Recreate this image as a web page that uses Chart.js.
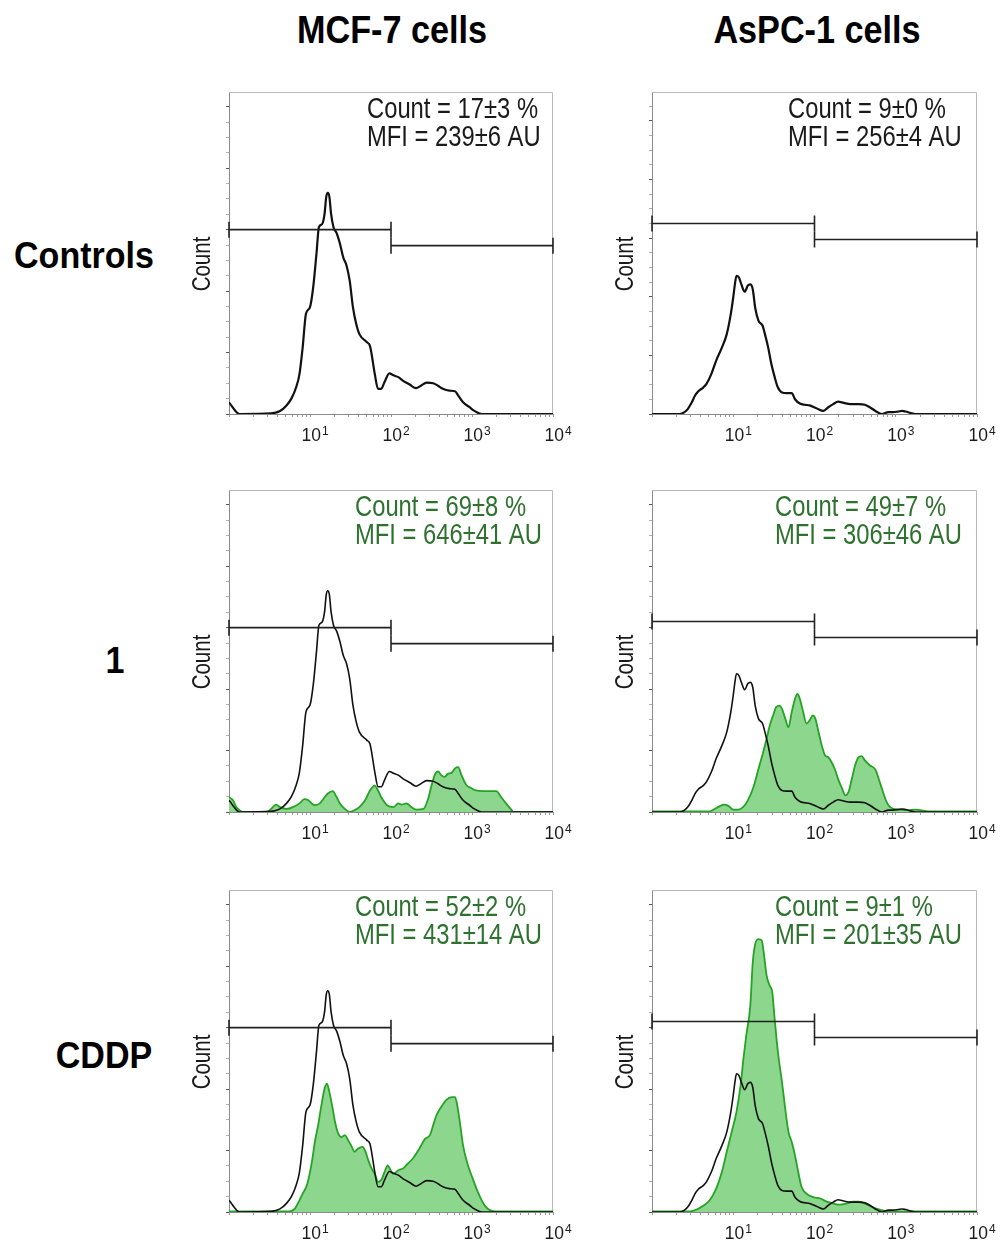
<!DOCTYPE html>
<html>
<head>
<meta charset="utf-8">
<script src="https://cdn.jsdelivr.net/npm/chart.js@4.4.1/dist/chart.umd.min.js"></script>
<style>
  body { margin: 0; background: #fff; width: 1000px; height: 1243px; position: relative; overflow: hidden;
         font-family: "Liberation Sans", Arial, sans-serif; }
  canvas { position: absolute; }
  .lbl { position: absolute; font-weight: bold; line-height: 1; white-space: nowrap; color: #000;
         text-align: center; width: 300px; }
</style>
</head>
<body>
<script>
// ---- data (x = log10 fluorescence, y = count in tick units) ----
const cellLines = ["MCF-7 cells", "AsPC-1 cells"];
const treatments = ["Controls", "1", "CDDP"];
const countLabels = [["17±3", "9±0"], ["69±8", "49±7"], ["52±2", "9±1"]];
const mfiLabels = [["239±6", "256±4"], ["646±41", "306±46"], ["431±14", "201±35"]];
const decadeTicks = [10, 100, 1000, 10000];

const mcfCtrlLog = [0, 0.11, 0.13, 0.52, 0.63, 0.71, 0.77, 0.83, 0.87, 0.91, 0.95, 1.0, 1.04, 1.08, 1.11, 1.15, 1.18, 1.2, 1.22, 1.24, 1.26, 1.29, 1.33, 1.37, 1.41, 1.45, 1.49, 1.53, 1.57, 1.61, 1.7, 1.74, 1.76, 1.8, 1.84, 1.88, 1.92, 1.98, 2.03, 2.09, 2.15, 2.23, 2.31, 2.37, 2.44, 2.52, 2.58, 2.64, 2.72, 2.79, 2.83, 2.89, 2.97, 3.03, 3.12, 4];
const mcfCtrlCount = [0.19, 0.01, 0, 0.01, 0.05, 0.14, 0.25, 0.44, 0.65, 1.09, 1.63, 1.74, 2.07, 2.61, 3.04, 3.09, 3.26, 3.53, 3.6, 3.53, 3.26, 3.04, 2.94, 2.77, 2.55, 2.42, 2.17, 1.74, 1.47, 1.3, 1.17, 1.11, 0.98, 0.65, 0.41, 0.41, 0.52, 0.66, 0.63, 0.6, 0.54, 0.48, 0.42, 0.46, 0.51, 0.5, 0.46, 0.41, 0.38, 0.37, 0.3, 0.19, 0.11, 0.05, 0, 0];

const aspCtrlLog = [0, 0.34, 0.4, 0.44, 0.49, 0.53, 0.57, 0.63, 0.67, 0.73, 0.79, 0.86, 0.92, 0.97, 1.0, 1.02, 1.04, 1.07, 1.1, 1.14, 1.18, 1.21, 1.24, 1.27, 1.31, 1.36, 1.39, 1.43, 1.47, 1.51, 1.55, 1.6, 1.66, 1.72, 1.76, 1.82, 1.88, 1.94, 2.03, 2.11, 2.17, 2.23, 2.29, 2.36, 2.44, 2.54, 2.62, 2.68, 2.75, 2.83, 2.91, 2.97, 3.03, 3.08, 3.12, 3.2, 3.24, 4];
const aspCtrlCount = [0, 0, 0.03, 0.08, 0.19, 0.3, 0.37, 0.43, 0.49, 0.65, 0.87, 1.08, 1.3, 1.63, 1.9, 2.11, 2.25, 2.22, 2.11, 1.99, 2.09, 2.11, 2.03, 1.73, 1.52, 1.44, 1.3, 1.08, 0.81, 0.6, 0.43, 0.35, 0.34, 0.34, 0.24, 0.17, 0.15, 0.14, 0.09, 0.05, 0.11, 0.16, 0.2, 0.18, 0.16, 0.16, 0.15, 0.11, 0.05, 0, 0.03, 0.03, 0.04, 0.05, 0.04, 0.01, 0, 0];

const mcfOneLog = [0, 0.05, 0.09, 0.13, 0.17, 0.46, 0.52, 0.58, 0.63, 0.71, 0.79, 0.87, 0.93, 0.98, 1.02, 1.06, 1.12, 1.18, 1.22, 1.28, 1.33, 1.37, 1.43, 1.49, 1.55, 1.61, 1.68, 1.74, 1.8, 1.84, 1.88, 1.92, 1.96, 2.03, 2.09, 2.13, 2.19, 2.25, 2.31, 2.4, 2.46, 2.5, 2.54, 2.58, 2.62, 2.66, 2.7, 2.75, 2.79, 2.83, 2.87, 2.93, 2.99, 3.05, 3.14, 3.24, 3.3, 3.36, 3.42, 3.49, 3.51, 4];
const mcfOneCount = [0.24, 0.19, 0.08, 0.03, 0, 0, 0.05, 0.12, 0.08, 0.05, 0.08, 0.14, 0.21, 0.19, 0.14, 0.11, 0.14, 0.24, 0.3, 0.34, 0.24, 0.14, 0.05, 0, 0.03, 0.08, 0.19, 0.35, 0.43, 0.35, 0.24, 0.16, 0.1, 0.08, 0.14, 0.12, 0.14, 0.08, 0.04, 0.05, 0.22, 0.43, 0.6, 0.66, 0.6, 0.57, 0.62, 0.64, 0.71, 0.73, 0.6, 0.44, 0.39, 0.35, 0.34, 0.34, 0.34, 0.24, 0.14, 0.03, 0, 0];

const aspOneLog = [0, 0.71, 0.77, 0.84, 0.88, 0.94, 1.0, 1.06, 1.12, 1.18, 1.25, 1.31, 1.37, 1.41, 1.45, 1.49, 1.53, 1.57, 1.6, 1.64, 1.68, 1.72, 1.76, 1.79, 1.82, 1.86, 1.9, 1.94, 1.98, 2.01, 2.05, 2.09, 2.13, 2.17, 2.21, 2.25, 2.29, 2.34, 2.38, 2.42, 2.46, 2.5, 2.54, 2.58, 2.62, 2.68, 2.75, 2.79, 2.83, 2.87, 2.91, 2.97, 3.05, 3.14, 3.24, 3.3, 3.4, 4];
const aspOneCount = [0.01, 0.01, 0.05, 0.1, 0.12, 0.1, 0.04, 0.04, 0.08, 0.19, 0.41, 0.7, 0.98, 1.19, 1.41, 1.57, 1.71, 1.73, 1.68, 1.52, 1.38, 1.63, 1.84, 1.92, 1.84, 1.63, 1.44, 1.49, 1.57, 1.52, 1.3, 1.08, 0.92, 0.89, 0.81, 0.7, 0.54, 0.38, 0.27, 0.33, 0.54, 0.76, 0.89, 0.91, 0.84, 0.76, 0.69, 0.54, 0.38, 0.22, 0.11, 0.05, 0.04, 0.03, 0.04, 0.03, 0.01, 0.01];

const mcfCddpLog = [0, 0.75, 0.81, 0.87, 0.91, 0.96, 1.0, 1.03, 1.06, 1.1, 1.14, 1.18, 1.21, 1.24, 1.28, 1.31, 1.35, 1.39, 1.43, 1.47, 1.51, 1.55, 1.59, 1.65, 1.68, 1.72, 1.76, 1.8, 1.84, 1.88, 1.92, 1.96, 1.99, 2.03, 2.09, 2.15, 2.21, 2.27, 2.35, 2.42, 2.48, 2.52, 2.56, 2.62, 2.68, 2.75, 2.79, 2.81, 2.85, 2.89, 2.95, 3.01, 3.07, 3.12, 3.16, 3.22, 3.28, 4];
const mcfCddpCount = [0.01, 0.01, 0.05, 0.19, 0.3, 0.43, 0.65, 0.87, 1.14, 1.41, 1.73, 2.01, 2.09, 1.95, 1.68, 1.46, 1.27, 1.22, 1.25, 1.17, 1.08, 0.98, 1.03, 1.06, 1.0, 0.84, 0.71, 0.62, 0.49, 0.52, 0.65, 0.76, 0.69, 0.62, 0.68, 0.71, 0.79, 0.87, 1.03, 1.19, 1.25, 1.41, 1.57, 1.71, 1.82, 1.87, 1.87, 1.79, 1.46, 1.08, 0.76, 0.54, 0.33, 0.19, 0.1, 0.03, 0.01, 0.01];

const aspCddpLog = [0, 0.47, 0.55, 0.63, 0.71, 0.79, 0.86, 0.92, 0.98, 1.04, 1.09, 1.13, 1.16, 1.21, 1.24, 1.27, 1.31, 1.35, 1.38, 1.41, 1.45, 1.48, 1.51, 1.55, 1.6, 1.64, 1.68, 1.72, 1.76, 1.8, 1.84, 1.9, 1.99, 2.07, 2.15, 2.23, 2.31, 2.4, 2.48, 2.54, 2.6, 2.68, 2.77, 2.83, 2.91, 4];
const aspCddpCount = [0.01, 0.01, 0.04, 0.1, 0.19, 0.38, 0.65, 0.98, 1.3, 1.63, 2.06, 2.55, 2.87, 3.36, 4.06, 4.36, 4.44, 4.42, 4.17, 3.85, 3.68, 3.58, 3.14, 2.6, 2.11, 1.68, 1.3, 1.14, 0.92, 0.65, 0.41, 0.3, 0.24, 0.22, 0.17, 0.14, 0.12, 0.14, 0.17, 0.17, 0.15, 0.1, 0.05, 0.03, 0.01, 0.01];

// gates: left gate 10^0..10^2, right gate 10^2..10^4
const gateBounds = [1, 100, 10000];
const gateHeights = [[3.0, 2.74], [3.1, 2.84]];
const yMax = 5.24;
const yMajorStep = [[1, 0.954], [1, 1], [1, 1]];

const ctrlSeries = [[mcfCtrlLog, mcfCtrlCount], [aspCtrlLog, aspCtrlCount]];
const treatedSeries = [null,
  [[mcfOneLog, mcfOneCount], [aspOneLog, aspOneCount]],
  [[mcfCddpLog, mcfCddpCount], [aspCddpLog, aspCddpCount]]];

// ---- layout ----
const COL_LEFT = [229, 652];
const COL_W = [324, 325];
const ROW_TOP = [92, 490, 890];
const PLOT_H = 322;
const TEXT_DX = [[138, 136], [126, 123], [126, 123]];
const TITLE_X = [391.5, 817];
const ROW_X = [83.5, 115, 104];
const ROW_BASE = [268, 673, 1068];

const FONT = '"Liberation Sans", Arial, sans-serif';
const GREEN_LINE = "#24a324";
const GREEN_FILL = "#8dd68d";
const GREEN_TEXT = "#2f722f";

Chart.defaults.font.family = FONT;

const toPoints = (logs, counts) => logs.map((l, i) => ({ x: Math.pow(10, l), y: counts[i] }));

function addLabel(text, cx, baseline, size, sx) {
  const d = document.createElement("div");
  d.className = "lbl";
  d.textContent = text;
  d.style.fontSize = size + "px";
  d.style.left = cx - 150 + "px";
  d.style.top = baseline - 0.8465 * size + "px";
  d.style.transform = "scaleX(" + sx + ")";
  document.body.appendChild(d);
}

cellLines.forEach((t, c) => addLabel(t, TITLE_X[c], 43, 38, 0.9));
treatments.forEach((t, r) => addLabel(t, ROW_X[r], ROW_BASE[r], 37, 0.92));

function makeDecor(r, c) {
  const lines = ["Count = " + countLabels[r][c] + " %", "MFI = " + mfiLabels[r][c] + " AU"];
  return {
    id: "panelDecor",
    beforeDatasetsDraw(chart) {
      const { ctx, chartArea: a } = chart;
      ctx.save();
      ctx.strokeStyle = "#b8b8b8";
      ctx.lineWidth = 1;
      ctx.beginPath();
      ctx.moveTo(a.left, a.top + 0.5);
      ctx.lineTo(a.right - 0.5, a.top + 0.5);
      ctx.lineTo(a.right - 0.5, a.bottom);
      ctx.stroke();
      ctx.restore();
    },
    afterDraw(chart) {
      const { ctx, chartArea: a } = chart;
      const xs = chart.scales.x;
      ctx.save();
      ctx.textBaseline = "alphabetic";

      // decade labels 10^n with raised exponent
      ctx.fillStyle = "#1a1a1a";
      decadeTicks.forEach((v) => {
        const exp = String(Math.round(Math.log10(v)));
        ctx.font = "19px " + FONT;
        const w1 = ctx.measureText("10").width * 0.92;
        ctx.font = "12px " + FONT;
        const w2 = ctx.measureText(exp).width;
        const left = xs.getPixelForValue(v) + 5 - (w1 + w2 + 1) / 2;
        ctx.save();
        ctx.translate(left, a.bottom + 27);
        ctx.scale(0.92, 1);
        ctx.font = "19px " + FONT;
        ctx.fillText("10", 0, 0);
        ctx.restore();
        ctx.font = "12px " + FONT;
        ctx.fillText(exp, left + w1 + 1, a.bottom + 21);
      });

      // statistics
      ctx.font = "29px " + FONT;
      ctx.fillStyle = r === 0 ? "#1a1a1a" : GREEN_TEXT;
      lines.forEach((s, i) => {
        ctx.save();
        ctx.translate(a.left + TEXT_DX[r][c], a.top + 26 + 28 * i);
        ctx.scale(0.82, 1);
        ctx.fillText(s, 0, 0);
        ctx.restore();
      });

      // y axis title
      ctx.font = "25px " + FONT;
      ctx.fillStyle = "#1a1a1a";
      ctx.textAlign = "center";
      ctx.translate(a.left - 19, (a.top + a.bottom) / 2 + 11);
      ctx.rotate(-Math.PI / 2);
      ctx.scale(0.82, 1);
      ctx.fillText("Count", 0, 0);
      ctx.restore();
    },
  };
}

function gateSet(x0, x1, y) {
  return {
    data: [{ x: x0, y: y }, { x: x1, y: y }],
    borderColor: "#222",
    borderWidth: 1.6,
    pointStyle: "line",
    pointRotation: 90,
    pointRadius: 8,
    pointBorderWidth: 1.6,
    pointBorderColor: "#222",
    fill: false,
    clip: false,
  };
}

for (let r = 0; r < 3; r++) {
  for (let c = 0; c < 2; c++) {
    const W = COL_W[c];
    const cv = document.createElement("canvas");
    cv.width = 50 + W + 30;
    cv.height = 10 + PLOT_H + 40;
    cv.style.left = COL_LEFT[c] - 50 + "px";
    cv.style.top = ROW_TOP[r] - 10 + "px";
    document.body.appendChild(cv);

    const step = yMajorStep[r][c];
    const g = gateHeights[c];
    const datasets = [
      gateSet(gateBounds[0], gateBounds[1], g[0]),
      gateSet(gateBounds[1], gateBounds[2], g[1]),
      {
        data: toPoints(ctrlSeries[c][0], ctrlSeries[c][1]),
        borderColor: "#111",
        borderWidth: r === 0 ? 2.2 : 1.6,
        pointRadius: 0,
        fill: false,
        cubicInterpolationMode: "monotone",
      },
    ];
    if (treatedSeries[r]) {
      const s = treatedSeries[r][c];
      datasets.push({
        data: toPoints(s[0], s[1]),
        borderColor: GREEN_LINE,
        backgroundColor: GREEN_FILL,
        borderWidth: 1.8,
        pointRadius: 0,
        fill: "origin",
        cubicInterpolationMode: "monotone",
      });
    }

    new Chart(cv, {
      type: "line",
      data: { datasets },
      plugins: [makeDecor(r, c)],
      options: {
        responsive: false,
        animation: false,
        devicePixelRatio: 1,
        events: [],
        layout: { padding: { left: 0, top: 10, right: 30, bottom: 0 } },
        plugins: { legend: { display: false }, tooltip: { enabled: false } },
        scales: {
          x: {
            type: "logarithmic",
            min: 1,
            max: 10000,
            afterBuildTicks: (scale) => {
              const t = [];
              for (let e = 0; e < 4; e++) for (let k = 1; k < 10; k++) t.push({ value: k * Math.pow(10, e) });
              t.push({ value: 10000 });
              scale.ticks = t;
            },
            afterFit: (scale) => { scale.height = 40; },
            ticks: { autoSkip: false, maxRotation: 0, callback: () => "" },
            grid: { drawOnChartArea: false, tickLength: 3, tickColor: "#999" },
            border: { color: "#8a8a8a", width: 1 },
          },
          y: {
            min: 0,
            max: yMax,
            afterBuildTicks: (scale) => {
              const t = [];
              for (let i = 0; i * step / 4 <= yMax + 1e-9; i++) t.push({ value: i * step / 4 });
              scale.ticks = t;
            },
            afterFit: (scale) => { scale.width = 50; },
            ticks: { display: false },
            grid: {
              drawOnChartArea: false,
              tickLength: 3,
              tickColor: (ctx) => {
                const q = ctx.tick ? ctx.tick.value / step : 0.5;
                return Math.abs(q - Math.round(q)) < 1e-6 ? "#555" : "#b0b0b0";
              },
            },
            border: { color: "#8a8a8a", width: 1 },
          },
        },
      },
    });
  }
}
</script>
</body>
</html>
